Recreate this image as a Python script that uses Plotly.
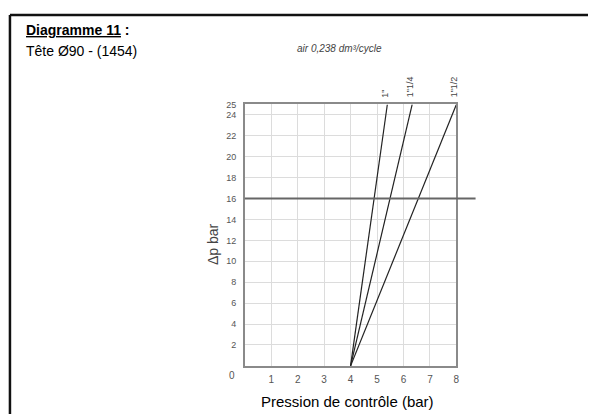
import plotly.graph_objects as go

# ---- data ----
series_labels = ['1"', '1"1/4', '1"1/2']
p_start = [4.0, 4.0, 4.0]          # control pressure at Δp = 0
p_end = [5.39, 6.33, 8.0]          # control pressure at Δp = 25
dp_range = [0, 25]
x_ticks = [1, 2, 3, 4, 5, 6, 7, 8]
y_ticks = [2, 4, 6, 8, 10, 12, 14, 16, 18, 20, 22, 24, 25]
limit_dp = 16

W, H = 591, 414
x0px, x1px = 246, 458.7
ytop_px, ybot_px = 100.7, 365.3

def px(x):
    return x / W

def py(y):
    return (H - y) / H

fig = go.Figure()

for lab, a, b in zip(series_labels, p_start, p_end):
    fig.add_trace(go.Scatter(
        x=[a, b], y=dp_range, mode="lines",
        line=dict(color="#222222", width=1.2),
        showlegend=False, hoverinfo="skip", name=lab))
    fig.add_annotation(
        x=b, y=dp_range[1], xref="x", yref="y", text=lab, textangle=-90,
        showarrow=False, xanchor="center", yanchor="bottom", yshift=5, xshift=-2,
        font=dict(family="Liberation Sans", size=9, color="#444444"))

fig.update_layout(
    width=W, height=H, paper_bgcolor="white", plot_bgcolor="white",
    margin=dict(l=0, r=0, t=0, b=0),
    xaxis=dict(domain=[px(x0px), px(x1px)], range=[0, 8], tickvals=x_ticks,
               ticktext=[str(v) for v in x_ticks], showgrid=True,
               gridcolor="#dcdcdc", gridwidth=1, zeroline=False,
               showline=True, linecolor="#8a8a8a", linewidth=1.5, mirror=True,
               ticks="", ticklabelstandoff=3,
               tickfont=dict(family="Liberation Sans", size=10, color="#555555")),
    yaxis=dict(domain=[py(ybot_px), py(ytop_px)], range=[0, 25], tickvals=y_ticks,
               ticktext=[str(v) for v in y_ticks], showgrid=True,
               gridcolor="#dcdcdc", gridwidth=1, zeroline=False,
               showline=True, linecolor="#8a8a8a", linewidth=1.5, mirror=True,
               ticks="", ticklabelstandoff=5,
               tickfont=dict(family="Liberation Sans", size=9, color="#555555")),
)

# limit line at 16 bar, extending beyond the plot on the right
fig.add_shape(type="line", xref="paper", yref="y", x0=px(x0px), x1=px(478),
              y0=limit_dp, y1=limit_dp, line=dict(color="#666666", width=2))

# frame of the document
fig.add_shape(type="line", xref="paper", yref="paper", x0=px(10), x1=1,
              y0=py(10), y1=py(10), line=dict(color="#111111", width=2.5))
fig.add_shape(type="line", xref="paper", yref="paper", x0=px(10), x1=px(10),
              y0=py(10), y1=0, line=dict(color="#111111", width=2.5))

# texts
fig.add_annotation(x=px(24), y=py(25), xref="paper", yref="paper",
                   text="<b><u>Diagramme 11</u> :</b>", showarrow=False,
                   xanchor="left", yanchor="middle",
                   font=dict(family="Liberation Sans", size=14, color="black"))
fig.add_annotation(x=px(24), y=py(47), xref="paper", yref="paper",
                   text="Tête Ø90 - (1454)", showarrow=False,
                   xanchor="left", yanchor="middle",
                   font=dict(family="Liberation Sans", size=14, color="black"))
fig.add_annotation(x=px(341), y=py(44), xref="paper", yref="paper",
                   text="<i>air 0,238 dm³/cycle</i>", showarrow=False,
                   xanchor="center", yanchor="middle",
                   font=dict(family="Liberation Sans", size=10, color="#444444"))
fig.add_annotation(x=px(214), y=py(242), xref="paper", yref="paper",
                   text="Δp bar", textangle=-90, showarrow=False,
                   xanchor="center", yanchor="middle",
                   font=dict(family="Liberation Sans", size=14, color="#444444"))
fig.add_annotation(x=px(349), y=py(401), xref="paper", yref="paper",
                   text="Pression de contrôle (bar)", showarrow=False,
                   xanchor="center", yanchor="middle",
                   font=dict(family="Liberation Sans", size=15, color="black"))
fig.add_annotation(x=px(233), y=py(375), xref="paper", yref="paper",
                   text="0", showarrow=False, xanchor="center", yanchor="middle",
                   font=dict(family="Liberation Sans", size=10, color="#555555"))

fig.write_html(
    "out.html",
    config={"displayModeBar": False},
    post_script="document.body.style.margin='0';document.body.style.overflow='hidden';",
)
